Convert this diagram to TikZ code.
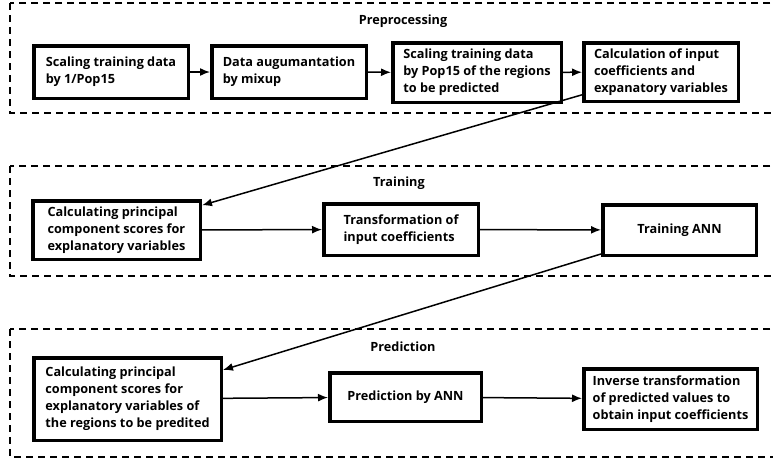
\documentclass[tikz,border=0pt]{standalone}
\usepackage{fontspec}
\setmainfont{Open Sans}
\usepackage{tikz}
\usetikzlibrary{arrows.meta}

\begin{document}
\begin{tikzpicture}[x=1pt, y=-1pt,
	stepbox/.style={draw=black, line width=3.5pt, fill=white, align=left, inner sep=0pt, font=\fontsize{12.7}{17}\selectfont\bfseries},
	groupbox/.style={draw=black, line width=1.3pt, dash pattern=on 7pt off 5pt},
	grouplabel/.style={font=\fontsize{12.7}{16}\selectfont\bfseries},
	flow/.style={line width=1.5pt, -{Latex[length=10pt, width=8pt]}}]

	\useasboundingbox (0,0) rectangle (773,461);

	% the three dashed stages, cut off on the right like the original
	\draw[groupbox] (10,3) rectangle (790,113);
	\draw[groupbox] (10,166) rectangle (790,276);
	\draw[groupbox] (10,329) rectangle (790,457);

	\node[grouplabel] (lblpre) at (403,21) {Preprocessing};
	\node[grouplabel] (lbltrain) at (399,183) {Training};
	\node[grouplabel] (lblpred) at (403,347) {Prediction};

	% preprocessing
	\node[stepbox, minimum width=154.5pt, minimum height=52.5pt] (pre1) at (111,72) {Scaling training data\\by 1/Pop15};
	\node[stepbox, minimum width=154.5pt, minimum height=52.5pt] (pre2) at (289,72) {Data augumantation\\by mixup};
	\node[stepbox, minimum width=168.5pt, minimum height=59.5pt] (pre3) at (477,72.5) {Scaling training data\\by Pop15 of the regions\\to be predicted};
	\node[stepbox, minimum width=154.5pt, minimum height=58.5pt] (pre4) at (661,72) {Calculation of input\\coefficients and\\expanatory variables};

	% training
	\node[stepbox, minimum width=167.5pt, minimum height=58.5pt] (train1) at (116.5,230) {Calculating principal\\component scores for\\explanatory variables};
	\node[stepbox, minimum width=154.5pt, minimum height=51.5pt] (train2) at (401,229.5) {Transformation of\\input coefficients};
	\node[stepbox, minimum width=153.5pt, minimum height=50.5pt] (train3) at (679.5,230) {Training ANN};

	% prediction
	\node[stepbox, minimum width=187.5pt, minimum height=82.5pt] (pred1) at (127.5,399) {Calculating principal\\component scores for\\explanatory variables of\\the regions to be predited};
	\node[stepbox, minimum width=151.5pt, minimum height=48.5pt] (pred2) at (405.5,397) {Prediction by ANN};
	\node[stepbox, minimum width=173.5pt, minimum height=60.5pt] (pred3) at (670.5,399) {Inverse transformation\\of predicted values to\\obtain input coefficients};

	\draw[flow] (pre1) -- (pre2);
	\draw[flow] (pre2) -- (pre3);
	\draw[flow] (pre3) -- (pre4);
	\draw[flow] (pre4) -- (train1);
	\draw[flow] (train1) -- (train2);
	\draw[flow] (train2) -- (train3);
	\draw[flow] (train3) -- (pred1);
	\draw[flow] (pred1) -- (pred2);
	\draw[flow] (pred2) -- (pred3);

\end{tikzpicture}
\end{document}
